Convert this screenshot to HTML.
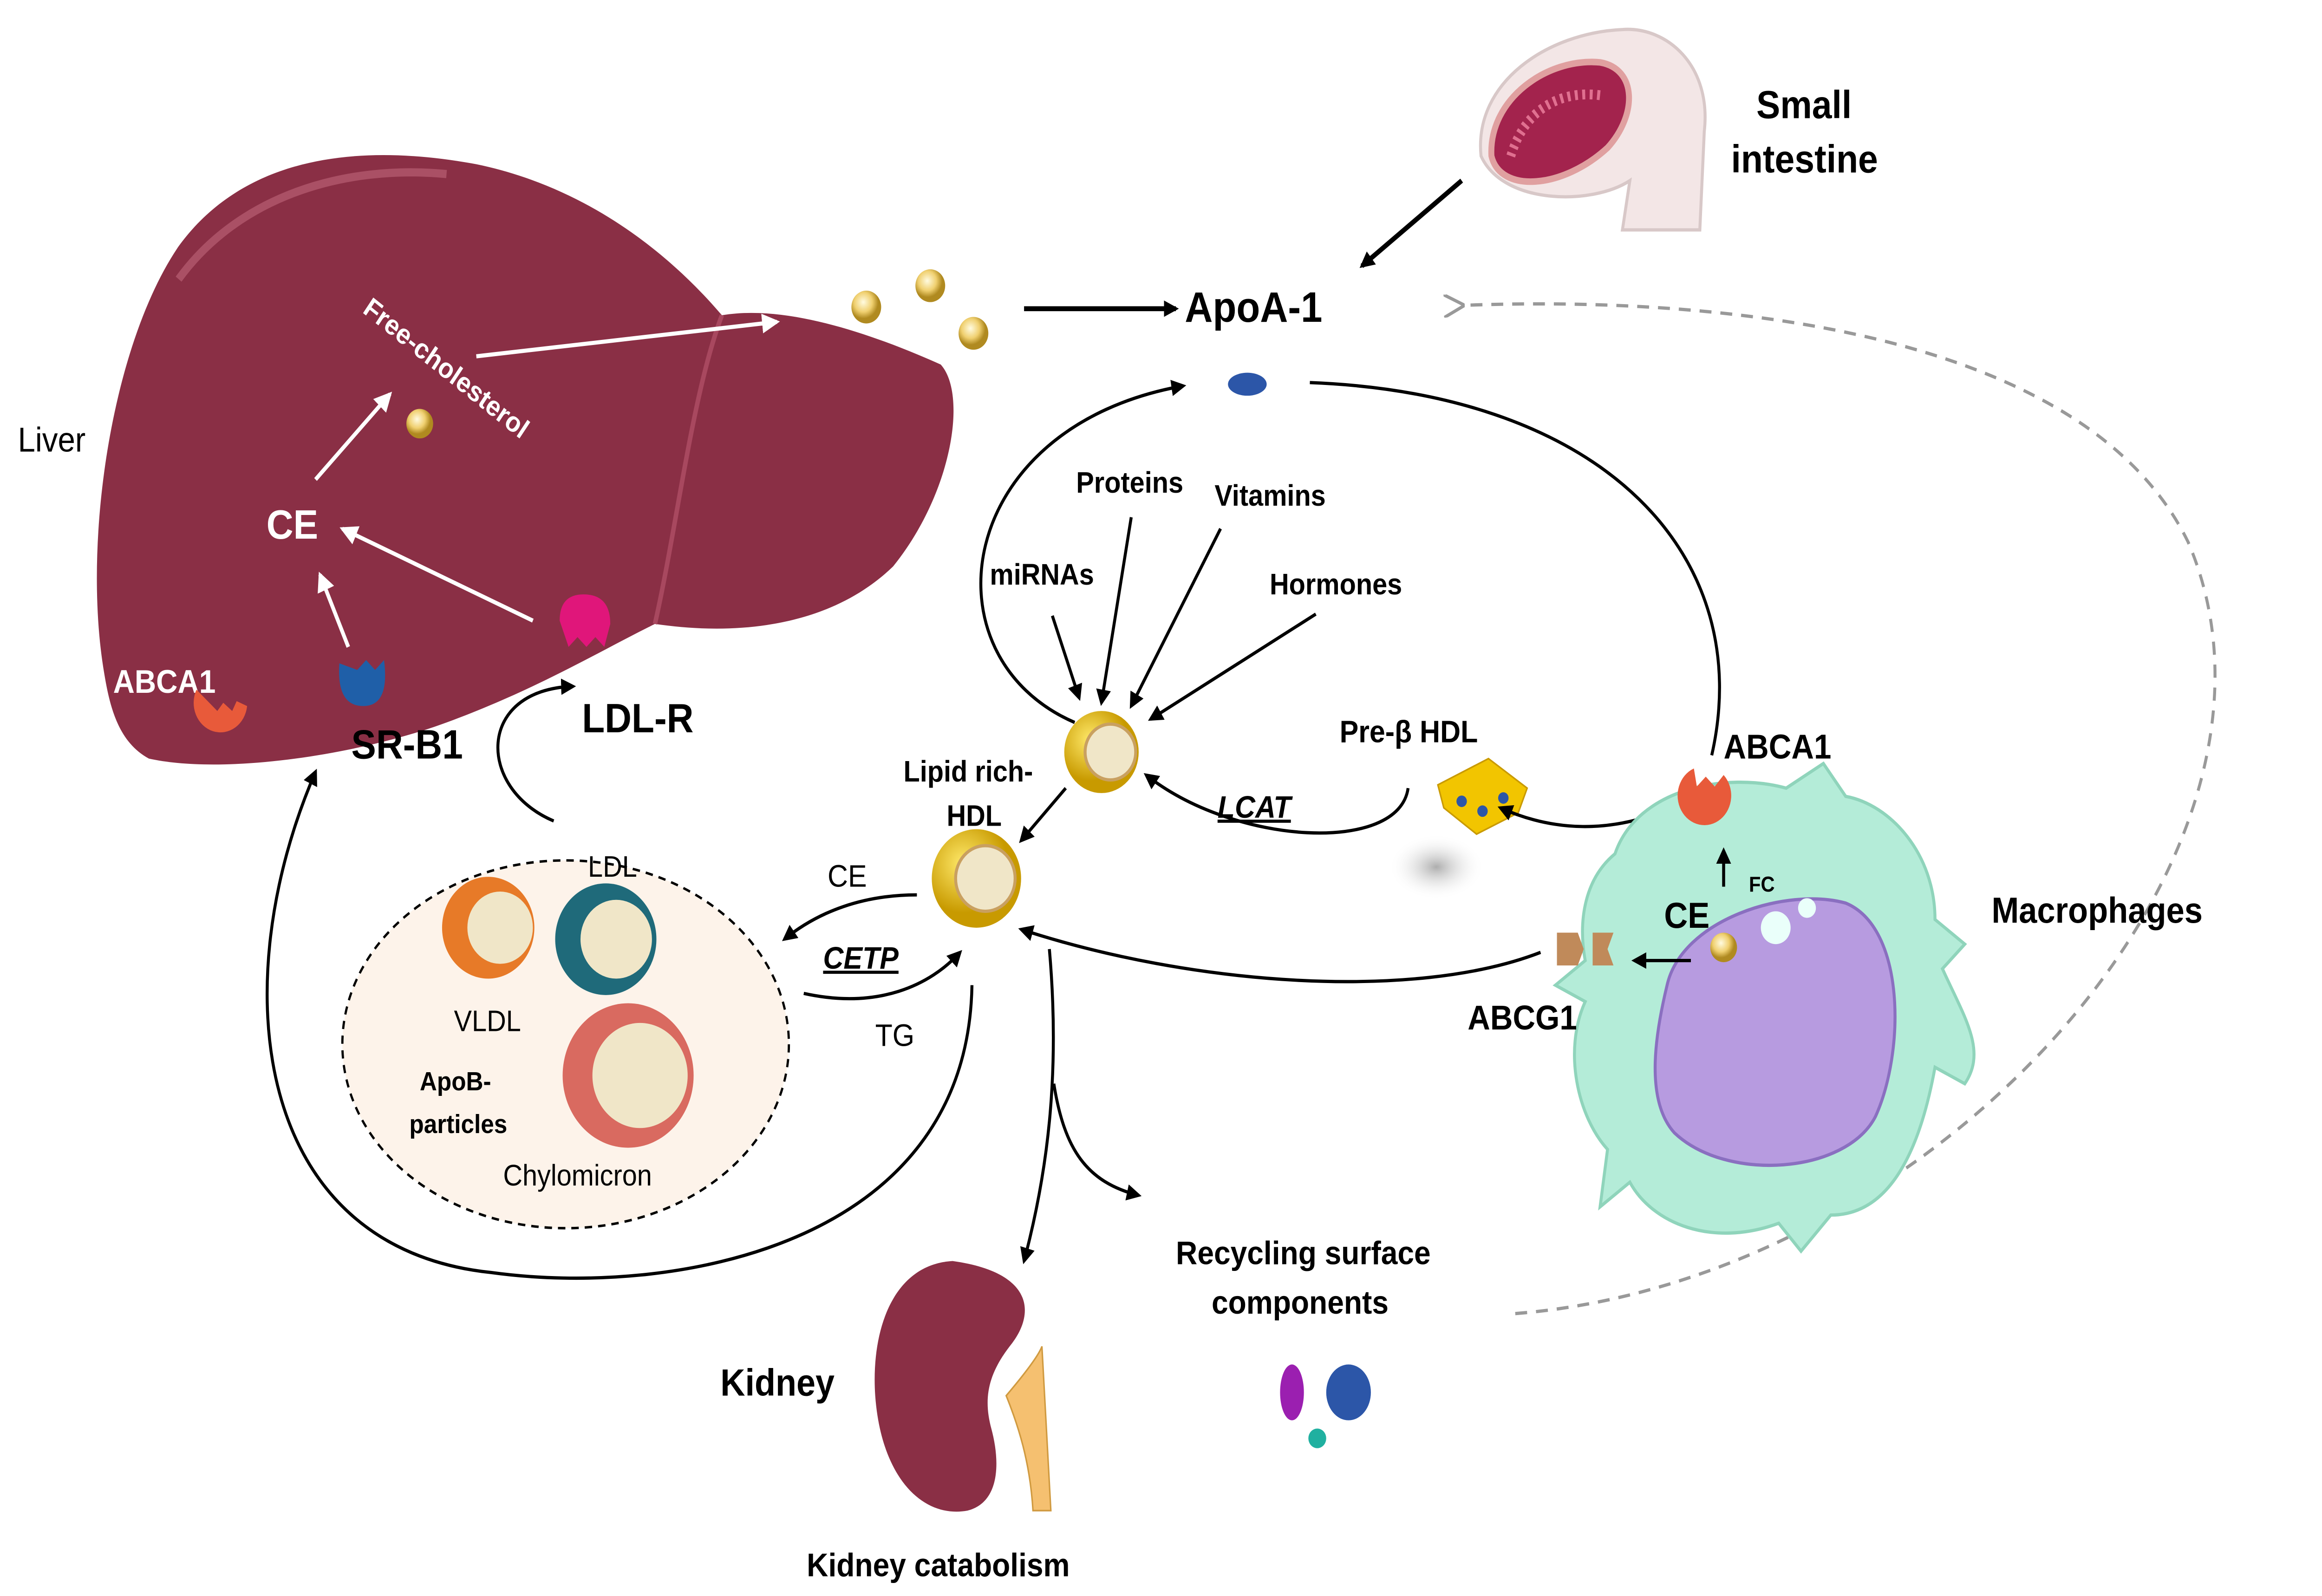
<!DOCTYPE html>
<html><head><meta charset="utf-8"><style>
html,body{margin:0;padding:0;background:#fff;width:100%;height:100%;overflow:hidden;}
svg{display:block;width:100%;height:100%;}
text{font-family:"Liberation Sans",sans-serif;}
</style></head><body>
<svg viewBox="0 0 1560 972" preserveAspectRatio="none" xmlns="http://www.w3.org/2000/svg">
<defs>
<marker id="ab" markerWidth="10" markerHeight="10" refX="8" refY="5" orient="auto" markerUnits="userSpaceOnUse"><path d="M0,0 L10,5 L0,10 z" fill="#000"/></marker>
<marker id="aw" markerWidth="12" markerHeight="12" refX="10" refY="6" orient="auto" markerUnits="userSpaceOnUse"><path d="M0,0 L12,6 L0,12 z" fill="#fff"/></marker>
<marker id="ag" markerWidth="14" markerHeight="14" refX="2" refY="7" orient="auto" markerUnits="userSpaceOnUse"><path d="M14,0 L0,7 L14,14" fill="none" stroke="#999" stroke-width="2"/></marker>
<radialGradient id="gold" cx="40%" cy="35%"><stop offset="0" stop-color="#fffbe0"/><stop offset="0.6" stop-color="#f0d070"/><stop offset="1" stop-color="#b08a20"/></radialGradient>
<radialGradient id="hdl" cx="35%" cy="35%"><stop offset="0" stop-color="#ffe96a"/><stop offset="1" stop-color="#c89a00"/></radialGradient>
<radialGradient id="shadow"><stop offset="0" stop-color="#999" stop-opacity="0.8"/><stop offset="1" stop-color="#fff" stop-opacity="0"/></radialGradient>
</defs>

<!-- Liver -->
<path d="M70,410 C55,330 75,210 120,150 C160,100 230,85 320,100 C400,115 455,160 485,192 C530,185 590,205 632,222 C650,240 640,300 600,345 C560,380 500,388 440,380 C400,398 360,420 300,440 C240,460 150,472 100,462 C80,452 74,432 70,410 Z" fill="#8a2f45"/>
<path d="M485,192 C465,240 455,320 440,380" fill="none" stroke="#a8485f" stroke-width="3"/>
<path d="M120,170 C160,120 230,100 300,106" fill="none" stroke="#c0687c" stroke-width="5" opacity="0.6"/>

<text x="12" y="275" font-size="21">Liver</text>
<text x="243" y="190" font-size="17" font-weight="bold" fill="#fff" transform="rotate(36 243 190)">Free-cholesterol</text>
<text x="179" y="328" font-size="25" font-weight="bold" fill="#fff">CE</text>
<text x="76" y="422" font-size="20" font-weight="bold" fill="#fff">ABCA1</text>
<circle cx="282" cy="258" r="9" fill="url(#gold)"/>
<line x1="320" y1="217" x2="522" y2="196" stroke="#fff" stroke-width="2.5" marker-end="url(#aw)"/>
<line x1="212" y1="292" x2="262" y2="240" stroke="#fff" stroke-width="2.5" marker-end="url(#aw)"/>
<line x1="358" y1="378" x2="230" y2="322" stroke="#fff" stroke-width="2.5" marker-end="url(#aw)"/>
<line x1="234" y1="394" x2="215" y2="350" stroke="#fff" stroke-width="2.5" marker-end="url(#aw)"/>
<path d="M132,420 a18,18 0 1 0 34,10 l-7,-3 l-3,6 l-6,-5 l-4,5 z" fill="#e85a3a"/>
<path d="M228,404 q-2,26 16,26 q18,0 14,-28 l-6,6 l-6,-6 l-6,6 z" fill="#1f5fa8"/>
<path d="M376,378 q0,-16 16,-16 q18,0 18,18 l-4,14 l-6,-6 l-6,6 l-6,-6 l-6,6 z" fill="#e0167a"/>
<text x="236" y="462" font-size="25" font-weight="bold">SR-B1</text>
<text x="391" y="446" font-size="25" font-weight="bold">LDL-R</text>

<circle cx="582" cy="187" r="10" fill="url(#gold)"/>
<circle cx="625" cy="174" r="10" fill="url(#gold)"/>
<circle cx="654" cy="203" r="10" fill="url(#gold)"/>
<line x1="688" y1="188" x2="790" y2="188" stroke="#000" stroke-width="3" marker-end="url(#ab)"/>
<text x="796" y="196" font-size="26" font-weight="bold">ApoA-1</text>
<ellipse cx="838" cy="234" rx="13" ry="7" fill="#2c56a8"/>

<!-- Small intestine -->
<path d="M995,95 C990,50 1040,20 1090,18 C1120,16 1150,40 1145,80 L1142,140 L1090,140 L1095,110 C1070,125 1010,125 995,95 Z" fill="#f3e6e6" stroke="#d8c8c8" stroke-width="2"/>
<path d="M1002,95 C1000,60 1040,35 1075,38 C1100,42 1100,70 1080,90 C1050,115 1008,118 1002,95 Z" fill="#a3234d" stroke="#e0a0a0" stroke-width="4"/>
<path d="M1015,95 C1025,65 1050,55 1075,58" fill="none" stroke="#e07090" stroke-width="6" stroke-dasharray="2 3"/>
<text x="1180" y="72" font-size="24" font-weight="bold">Small</text>
<text x="1163" y="105" font-size="24" font-weight="bold">intestine</text>
<line x1="982" y1="110" x2="915" y2="162" stroke="#000" stroke-width="3" marker-end="url(#ab)"/>

<path d="M1018,800 C1300,780 1560,520 1470,330 C1400,200 1150,180 982,186" fill="none" stroke="#999" stroke-width="2" stroke-dasharray="8 6" marker-end="url(#ag)"/>

<path d="M880,233 C1080,240 1180,340 1150,460" fill="none" stroke="#000" stroke-width="2"/>
<path d="M722,440 C620,400 640,260 795,235" fill="none" stroke="#000" stroke-width="2" marker-end="url(#ab)"/>

<text x="723" y="300" font-size="18" font-weight="bold">Proteins</text>
<text x="816" y="308" font-size="18" font-weight="bold">Vitamins</text>
<text x="665" y="356" font-size="18" font-weight="bold">miRNAs</text>
<text x="853" y="362" font-size="18" font-weight="bold">Hormones</text>
<line x1="760" y1="315" x2="740" y2="428" stroke="#000" stroke-width="2" marker-end="url(#ab)"/>
<line x1="820" y1="322" x2="760" y2="430" stroke="#000" stroke-width="2" marker-end="url(#ab)"/>
<line x1="707" y1="375" x2="725" y2="425" stroke="#000" stroke-width="2" marker-end="url(#ab)"/>
<line x1="884" y1="374" x2="773" y2="438" stroke="#000" stroke-width="2" marker-end="url(#ab)"/>

<circle cx="740" cy="458" r="25" fill="url(#hdl)"/>
<circle cx="746" cy="458" r="17" fill="#f0e6c8" stroke="#c9a060" stroke-width="2"/>
<circle cx="656" cy="535" r="30" fill="url(#hdl)"/>
<circle cx="662" cy="535" r="20" fill="#f0e6c8" stroke="#c9a060" stroke-width="2"/>
<text x="607" y="476" font-size="18" font-weight="bold">Lipid rich-</text>
<text x="636" y="503" font-size="18" font-weight="bold">HDL</text>
<line x1="716" y1="480" x2="686" y2="512" stroke="#000" stroke-width="2" marker-end="url(#ab)"/>

<text x="900" y="452" font-size="19" font-weight="bold">Pre-β HDL</text>
<ellipse cx="965" cy="528" rx="32" ry="20" fill="url(#shadow)"/>
<path d="M966,478 L1000,462 L1026,480 L1020,495 L992,508 L970,492 Z" fill="#f2c500" stroke="#c99a00"/>
<circle cx="982" cy="488" r="3.5" fill="#2c56a8"/><circle cx="996" cy="494" r="3.5" fill="#2c56a8"/><circle cx="1010" cy="486" r="3.5" fill="#2c56a8"/>
<path d="M946,480 C940,520 830,515 770,472" fill="none" stroke="#000" stroke-width="2" marker-end="url(#ab)"/>
<text x="818" y="498" font-size="19" font-weight="bold" font-style="italic" text-decoration="underline">LCAT</text>
<path d="M1128,490 C1080,510 1040,505 1008,492" fill="none" stroke="#000" stroke-width="2" marker-end="url(#ab)"/>

<!-- Macrophage -->
<path d="M1085,520 C1100,480 1160,470 1200,480 L1225,465 L1240,485 C1270,490 1300,520 1300,560 L1320,575 L1305,590 C1320,620 1335,640 1320,660 L1300,650 C1290,700 1270,740 1230,740 L1210,762 L1195,745 C1150,760 1110,745 1095,720 L1075,735 L1080,700 C1060,680 1050,640 1065,610 L1045,600 L1065,585 C1060,560 1065,535 1085,520 Z" fill="#b4ecd8" stroke="#8fd4bb" stroke-width="2"/>
<path d="M1120,600 C1130,560 1200,540 1240,550 C1280,565 1280,640 1260,680 C1240,715 1160,720 1125,690 C1105,670 1112,630 1120,600 Z" fill="#b79be0" stroke="#8a6fc0" stroke-width="2"/>
<circle cx="1193" cy="565" r="10" fill="#eafffa"/><circle cx="1214" cy="553" r="6" fill="#eafffa"/>
<circle cx="1158" cy="577" r="9" fill="url(#gold)"/>
<path d="M1138,468 a18,18 0 1 0 20,4 l-6,7 l-6,-6 l-6,6 z" fill="#e85a3a"/>
<text x="1158" y="462" font-size="21" font-weight="bold">ABCA1</text>
<text x="1118" y="565" font-size="22" font-weight="bold">CE</text>
<text x="1175" y="543" font-size="13" font-weight="bold">FC</text>
<line x1="1158" y1="540" x2="1158" y2="518" stroke="#000" stroke-width="2" marker-end="url(#ab)"/>
<line x1="1136" y1="585" x2="1098" y2="585" stroke="#000" stroke-width="2" marker-end="url(#ab)"/>
<path d="M1046,568 l14,0 l4,10 l-4,10 l-14,0 z M1070,568 l14,0 l-4,10 l4,10 l-14,0 z" fill="#c08a5a"/>
<text x="986" y="627" font-size="21" font-weight="bold">ABCG1</text>
<text x="1338" y="562" font-size="22" font-weight="bold">Macrophages</text>
<path d="M1035,580 C950,610 800,600 686,566" fill="none" stroke="#000" stroke-width="2" marker-end="url(#ab)"/>

<!-- ApoB particles -->
<ellipse cx="380" cy="636" rx="150" ry="112" fill="#fdf3ea" stroke="#000" stroke-width="1.5" stroke-dasharray="5 4"/>
<circle cx="328" cy="565" r="31" fill="#e77a28"/><circle cx="336" cy="565" r="22" fill="#f0e6c8"/>
<circle cx="407" cy="572" r="34" fill="#1f6a7a"/><circle cx="414" cy="572" r="24" fill="#f0e6c8"/>
<circle cx="422" cy="655" r="44" fill="#d96a60"/><circle cx="430" cy="655" r="32" fill="#f0e6c8"/>
<text x="395" y="534" font-size="18">LDL</text>
<text x="305" y="628" font-size="18">VLDL</text>
<text x="282" y="664" font-size="16" font-weight="bold">ApoB-</text>
<text x="275" y="690" font-size="16" font-weight="bold">particles</text>
<text x="338" y="722" font-size="18">Chylomicron</text>

<text x="556" y="540" font-size="19">CE</text>
<text x="588" y="637" font-size="19">TG</text>
<text x="553" y="590" font-size="19" font-weight="bold" font-style="italic" text-decoration="underline">CETP</text>
<path d="M616,545 C580,545 550,555 527,572" fill="none" stroke="#000" stroke-width="2" marker-end="url(#ab)"/>
<path d="M540,605 C590,615 625,600 645,580" fill="none" stroke="#000" stroke-width="2" marker-end="url(#ab)"/>

<path d="M372,500 C320,480 320,420 385,418" fill="none" stroke="#000" stroke-width="2" marker-end="url(#ab)"/>
<path d="M653,600 C650,760 450,790 330,775 C170,760 150,600 212,470" fill="none" stroke="#000" stroke-width="2" marker-end="url(#ab)"/>

<path d="M705,578 C712,650 705,710 688,768" fill="none" stroke="#000" stroke-width="2" marker-end="url(#ab)"/>
<path d="M708,660 C715,700 730,720 765,728" fill="none" stroke="#000" stroke-width="2" marker-end="url(#ab)"/>
<text x="790" y="770" font-size="20" font-weight="bold">Recycling surface</text>
<text x="814" y="800" font-size="20" font-weight="bold">components</text>
<ellipse cx="868" cy="848" rx="8" ry="17" fill="#9b1fb0"/>
<ellipse cx="906" cy="848" rx="15" ry="17" fill="#2c56a8"/>
<circle cx="885" cy="876" r="6" fill="#20b0a0"/>

<!-- Kidney -->
<path d="M640,768 C600,770 585,810 588,850 C592,900 620,925 650,920 C672,915 672,890 666,870 C660,850 665,835 680,818 C695,800 695,775 640,768 Z" fill="#8a2f45"/>
<path d="M676,850 C690,835 698,825 700,820 L706,920 L694,920 C692,890 684,868 676,850 Z" fill="#f5c070" stroke="#d09a40"/>
<text x="484" y="850" font-size="23" font-weight="bold">Kidney</text>
<text x="542" y="960" font-size="20" font-weight="bold">Kidney catabolism</text>
</svg>
</body></html>
